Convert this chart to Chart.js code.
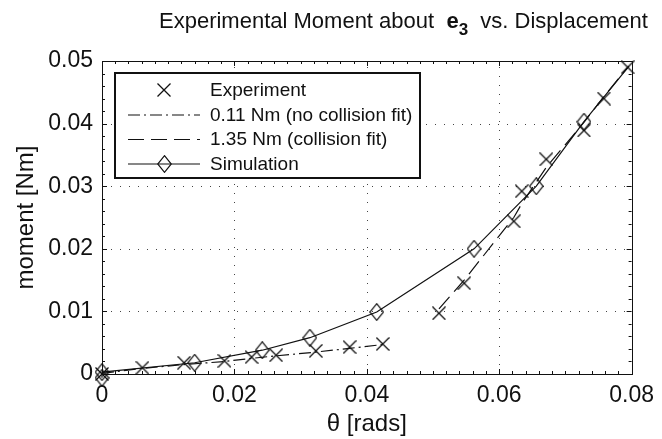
<!DOCTYPE html>
<html>
<head>
<meta charset="utf-8">
<script src="https://cdn.jsdelivr.net/npm/chart.js@4.4.1/dist/chart.umd.min.js"></script>
<style>
  html, body { margin: 0; padding: 0; background: #fff; }
  #wrap { position: relative; width: 662px; height: 439px; }
  #title {
    position: absolute; left: 159px; top: 10px;
    font: 22px "Liberation Sans", Arial, sans-serif; line-height: 22px;
    color: #111; white-space: nowrap;
  }
  #title sub { font-size: 17px; vertical-align: -7px; line-height: 0; }
</style>
</head>
<body>
<div id="wrap">
  <div id="title">Experimental Moment about &nbsp;<b>e<sub>3</sub></b>&nbsp; vs. Displacement</div>
  <canvas id="c" width="662" height="439"></canvas>
</div>
<script>
// axis ticks
const xTicks = [0, 0.02, 0.04, 0.06, 0.08];
const xTickLabels = ['0', '0.02', '0.04', '0.06', '0.08'];
const yTicks = [0, 0.01, 0.02, 0.03, 0.04, 0.05];
const yTickLabels = ['0', '0.01', '0.02', '0.03', '0.04', '0.05'];

// experiment (x markers)
const expTheta  = [0, 0.0061, 0.0124, 0.0185, 0.0226, 0.0263, 0.0323, 0.0374, 0.0424,
                   0.0509, 0.0547, 0.0622, 0.0634, 0.0671, 0.0728, 0.0758, 0.0794];
const expMoment = [0, 0.0010, 0.0018, 0.0021, 0.0027, 0.0030, 0.0037, 0.0043, 0.0048,
                   0.0097, 0.0145, 0.0244, 0.0292, 0.0343, 0.0389, 0.0440, 0.0490];

// 0.11 Nm fit (no collision)
const noCollTheta  = [0, 0.0061, 0.0124, 0.0185, 0.0226, 0.0263, 0.0323, 0.0374, 0.0424];
const noCollMoment = [0.0001, 0.0009, 0.0015, 0.0020, 0.0025, 0.0029, 0.0035, 0.0041, 0.0047];

// 1.35 Nm fit (collision)
const collTheta  = [0.0509, 0.0547, 0.0622, 0.0634, 0.0671, 0.0728, 0.0758, 0.0794];
const collMoment = [0.0104, 0.0150, 0.0250, 0.0272, 0.0330, 0.0402, 0.0443, 0.0490];

// simulation (diamonds, last point is line end only)
const simTheta  = [0, 0, 0.0140, 0.0242, 0.0314, 0.0415, 0.0562, 0.0656, 0.0728, 0.0796];
const simMoment = [-0.0006, 0.0003, 0.0018, 0.0038, 0.0058, 0.0099, 0.0200, 0.0300, 0.0403, 0.0492];
const simMarker = [1, 1, 1, 1, 1, 1, 1, 1, 1, 0];

const FONT = '"Liberation Sans", Arial, sans-serif';
const INK = '#111';

function pts(xs, ys) {
    return xs.map((x, i) => ({ x: x, y: ys[i] }));
}

function makeX(size) {
    const c = document.createElement('canvas');
    c.width = size; c.height = size;
    const g = c.getContext('2d');
    g.strokeStyle = INK; g.lineWidth = 1.3;
    g.beginPath();
    g.moveTo(0.5, 0.5); g.lineTo(size - 0.5, size - 0.5);
    g.moveTo(size - 0.5, 0.5); g.lineTo(0.5, size - 0.5);
    g.stroke();
    return c;
}

function makeDiamond(w, h) {
    const c = document.createElement('canvas');
    c.width = w; c.height = h;
    const g = c.getContext('2d');
    g.strokeStyle = INK; g.lineWidth = 1.2;
    g.beginPath();
    g.moveTo(w / 2, 0.7); g.lineTo(w - 0.7, h / 2);
    g.lineTo(w / 2, h - 0.7); g.lineTo(0.7, h / 2);
    g.closePath();
    g.stroke();
    return c;
}

const xMark = makeX(14);
const diamond = makeDiamond(15, 18);

// grid, box and inward ticks drawn from the scales
const axesBox = {
    id: 'axesBox',
    beforeDatasetsDraw(chart) {
        const { ctx, chartArea: a, scales } = chart;
        const sx = scales.x, sy = scales.y;
        ctx.save();
        ctx.strokeStyle = '#444';
        ctx.lineWidth = 1;
        ctx.setLineDash([1, 8]);
        ctx.beginPath();
        xTicks.slice(1, -1).forEach(v => {
            const p = Math.round(sx.getPixelForValue(v)) + 0.5;
            ctx.moveTo(p, a.bottom); ctx.lineTo(p, a.top);
        });
        yTicks.slice(1, -1).forEach(v => {
            const p = Math.round(sy.getPixelForValue(v)) + 0.5;
            ctx.moveTo(a.left, p); ctx.lineTo(a.right, p);
        });
        ctx.stroke();
        ctx.setLineDash([]);
        ctx.strokeStyle = INK;
        ctx.beginPath();
        for (let v = 0; v <= 0.08 + 1e-9; v += 0.002) {
            const p = Math.round(sx.getPixelForValue(v)) + 0.5;
            const major = xTicks.some(t => Math.abs(t - v) < 1e-9);
            const len = major ? 5 : 3;
            ctx.moveTo(p, a.bottom); ctx.lineTo(p, a.bottom - len);
            ctx.moveTo(p, a.top); ctx.lineTo(p, a.top + len);
        }
        for (let v = 0; v <= 0.05 + 1e-9; v += 0.002) {
            const p = Math.round(sy.getPixelForValue(v)) + 0.5;
            const major = yTicks.some(t => Math.abs(t - v) < 1e-9);
            const len = major ? 5 : 3;
            ctx.moveTo(a.left, p); ctx.lineTo(a.left + len, p);
            ctx.moveTo(a.right, p); ctx.lineTo(a.right - len, p);
        }
        ctx.stroke();
        ctx.strokeRect(Math.round(a.left) + 0.5, Math.round(a.top) + 0.5,
                       Math.round(a.right - a.left), Math.round(a.bottom - a.top));
        ctx.restore();
    }
};

// legend box in the upper left corner
const boxLegend = {
    id: 'boxLegend',
    afterDatasetsDraw(chart) {
        const ctx = chart.ctx;
        const ds = chart.data.datasets;
        const L = 115, T = 73, R = 420, B = 178;
        ctx.save();
        ctx.fillStyle = '#fff';
        ctx.fillRect(L, T, R - L, B - T);
        ctx.strokeStyle = INK;
        ctx.lineWidth = 2;
        ctx.strokeRect(L, T, R - L, B - T);
        ctx.lineWidth = 1.2;
        ctx.font = '19px ' + FONT;
        ctx.fillStyle = INK;
        ctx.textBaseline = 'middle';
        const rows = [90, 114.5, 139, 163.5];
        ds.forEach((d, i) => {
            const y = rows[i];
            if (d.showLine !== false) {
                ctx.setLineDash(d.borderDash || []);
                ctx.beginPath();
                ctx.moveTo(128, y + 0.5); ctx.lineTo(200, y + 0.5);
                ctx.stroke();
                ctx.setLineDash([]);
            }
            if (d.legendMark) {
                const m = d.legendMark;
                ctx.drawImage(m, Math.round(164 - m.width / 2), Math.round(y - m.height / 2));
            }
            ctx.fillText(d.label, 210, y + 1);
        });
        ctx.restore();
    }
};

new Chart(document.getElementById('c'), {
    type: 'scatter',
    data: {
        datasets: [
            {
                label: 'Experiment',
                data: pts(expTheta, expMoment),
                showLine: false,
                pointStyle: xMark,
                legendMark: xMark,
                clip: false
            },
            {
                label: '0.11 Nm (no collision fit)',
                data: pts(noCollTheta, noCollMoment),
                showLine: true,
                borderColor: INK,
                borderWidth: 1.2,
                borderDash: [12, 4, 2, 4],
                pointRadius: 0
            },
            {
                label: '1.35 Nm (collision fit)',
                data: pts(collTheta, collMoment),
                showLine: true,
                borderColor: INK,
                borderWidth: 1.2,
                borderDash: [16, 7],
                pointRadius: 0
            },
            {
                label: 'Simulation',
                data: pts(simTheta, simMoment),
                showLine: true,
                borderColor: INK,
                borderWidth: 1.2,
                pointStyle: simMarker.map(m => m ? diamond : false),
                pointRadius: simMarker.map(m => m ? 8 : 0),
                legendMark: diamond,
                clip: false
            }
        ]
    },
    options: {
        responsive: false,
        animation: false,
        layout: { padding: { left: 0, right: 25, top: 61, bottom: 0 } },
        plugins: {
            legend: { display: false },
            tooltip: { enabled: false }
        },
        scales: {
            x: {
                type: 'linear',
                min: 0, max: 0.08,
                afterBuildTicks: s => { s.ticks = xTicks.map(v => ({ value: v })); },
                afterFit: s => { s.height = 65; },
                grid: { display: false, drawTicks: false },
                border: { display: false },
                ticks: {
                    color: INK,
                    padding: 8,
                    font: { family: FONT, size: 23 },
                    maxRotation: 0,
                    callback: (v, i) => xTickLabels[i]
                },
                title: {
                    display: true, text: 'θ [rads]', color: INK,
                    font: { family: FONT, size: 24 },
                    padding: { top: 0, bottom: 0 }
                }
            },
            y: {
                type: 'linear',
                min: 0, max: 0.05,
                afterBuildTicks: s => { s.ticks = yTicks.map(v => ({ value: v })); },
                afterFit: s => { s.width = 102; },
                grid: { display: false, drawTicks: false },
                border: { display: false },
                ticks: {
                    color: INK,
                    padding: 9,
                    font: { family: FONT, size: 23 },
                    callback: (v, i) => yTickLabels[i]
                },
                title: {
                    display: true, text: 'moment [Nm]', color: INK,
                    font: { family: FONT, size: 24 },
                    padding: { top: 12, bottom: 0 }
                }
            }
        }
    },
    plugins: [axesBox, boxLegend]
});
</script>
</body>
</html>
